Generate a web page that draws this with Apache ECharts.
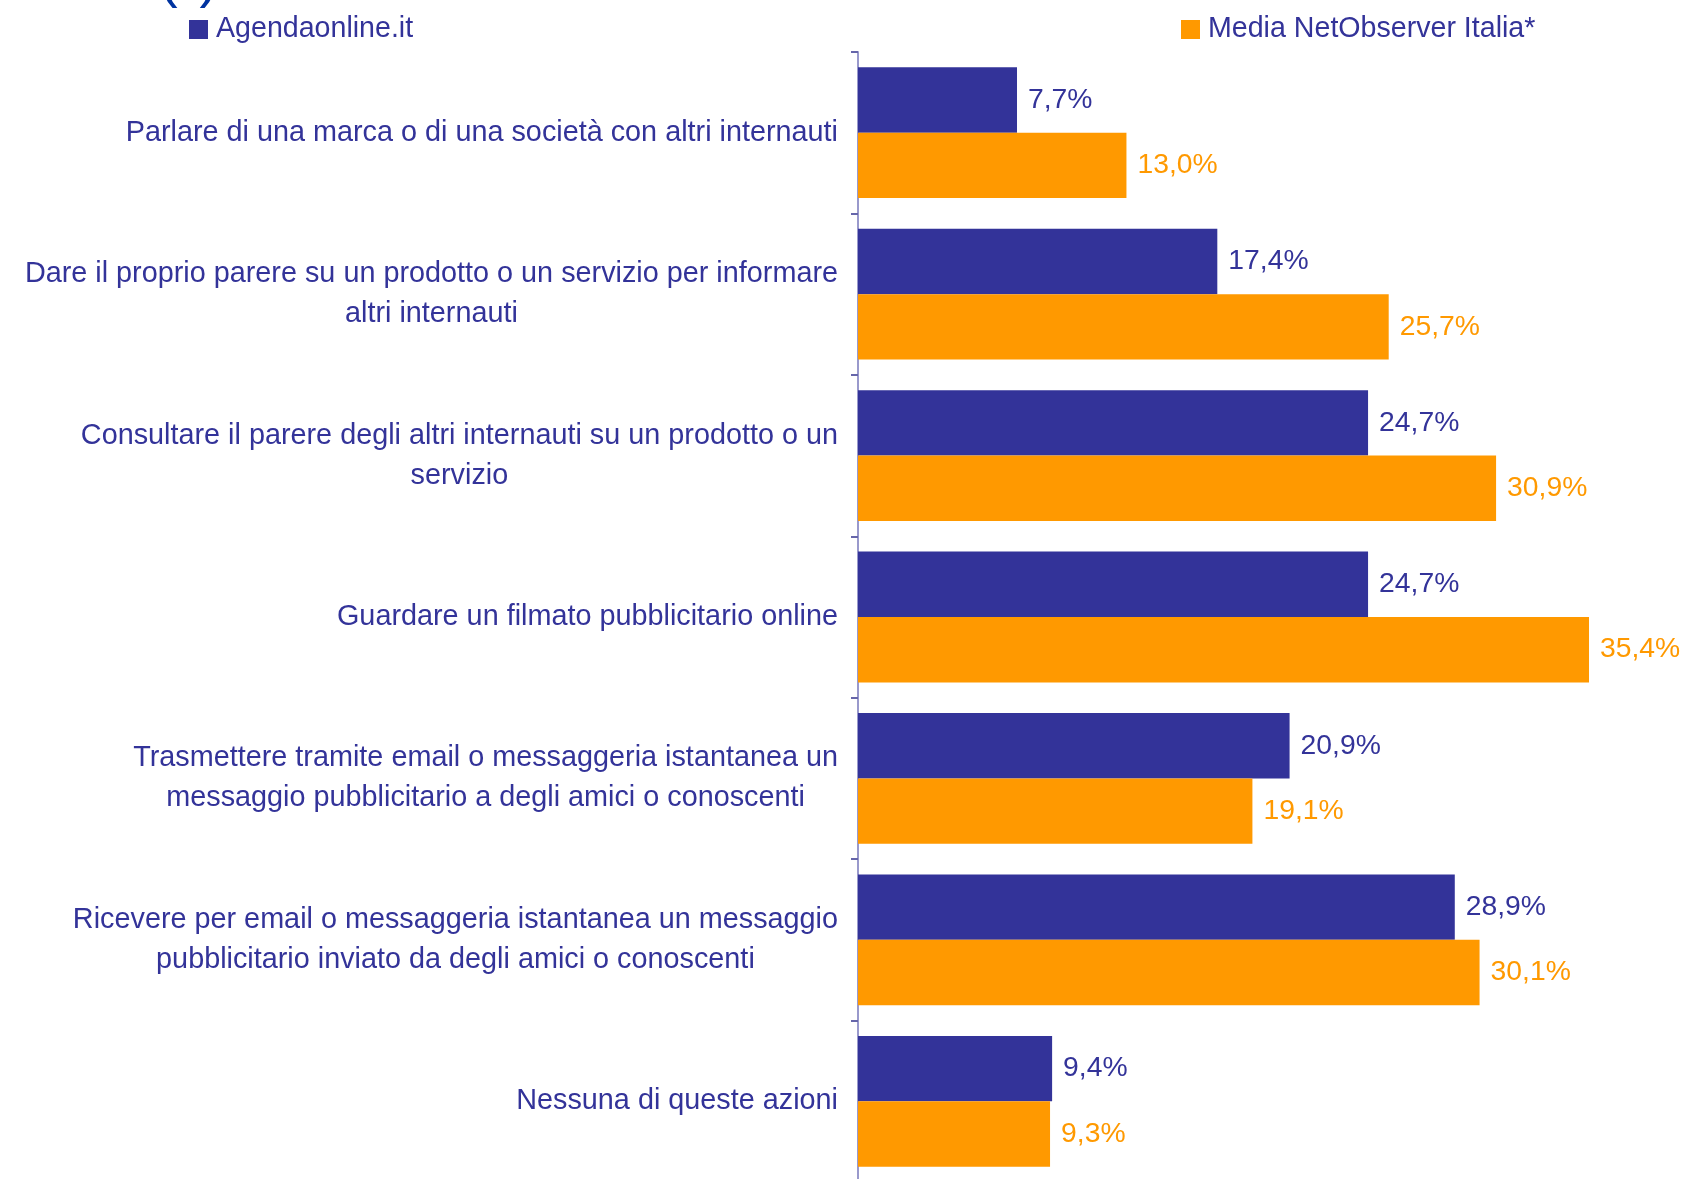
<!DOCTYPE html>
<html>
<head>
<meta charset="utf-8">
<script src="https://cdn.jsdelivr.net/npm/echarts@6/dist/echarts.min.js"></script>
<style>
html,body{margin:0;padding:0;background:#fff;}
#chart{width:1686px;height:1179px;}
</style>
</head>
<body>
<div id="chart"></div>
<script>
const categories = [
  "Parlare di una marca o di una società con altri internauti",
  "Dare il proprio parere su un prodotto o un servizio per informare\naltri internauti",
  "Consultare il parere degli altri internauti su un prodotto o un\nservizio",
  "Guardare un filmato pubblicitario online",
  "Trasmettere tramite email o messaggeria istantanea un\nmessaggio pubblicitario a degli amici o conoscenti",
  "Ricevere per email o messaggeria istantanea un messaggio\npubblicitario inviato da degli amici o conoscenti",
  "Nessuna di queste azioni"
];
const seriesNames = ["Agendaonline.it", "Media NetObserver Italia*"];
const agendaValues = [7.7, 17.4, 24.7, 24.7, 20.9, 28.9, 9.4];
const mediaValues = [13.0, 25.7, 30.9, 35.4, 19.1, 30.1, 9.3];
const titleText = "(*)";

const FONT = "'Liberation Sans', Arial, sans-serif";
const BLUE = '#333399';
const ORANGE = '#FF9900';

const chart = echarts.init(document.getElementById('chart'));
const fmt = v => v.value.toFixed(1).replace('.', ',') + '%';

const legendBase = {
  top: 15, padding: 0,
  itemWidth: 19, itemHeight: 19, itemGap: 0,
  icon: 'rect',
  textStyle: { fontSize: 28.6, lineHeight: 19, color: BLUE, fontFamily: FONT, padding: [0, 0, 0, 3] }
};

chart.setOption({
  animation: false,
  backgroundColor: '#ffffff',
  textStyle: { fontFamily: FONT },
  graphic: [{
    type: 'text', left: 159, top: -47,
    style: { text: titleText, fontSize: 56, fill: '#0033a0', fontFamily: FONT }
  }],
  legend: [
    Object.assign({}, legendBase, { data: [seriesNames[0]], left: 189 }),
    Object.assign({}, legendBase, { data: [seriesNames[1]], left: 1181 })
  ],
  grid: { left: 858, right: 2, top: 52, bottom: -3, containLabel: false, outerBoundsMode: 'none' },
  xAxis: { type: 'value', min: 0, max: 40, show: false },
  yAxis: {
    type: 'category', data: categories, inverse: true,
    axisLine: { show: true, lineStyle: { color: '#9999cc', width: 2 } },
    axisTick: { show: true, length: 7, lineStyle: { color: '#6666aa', width: 2 } },
    splitLine: { show: false },
    axisLabel: {
      margin: 20,
      formatter: v => v.split('\n').map(l => '{c|' + l + '}').join('\n'),
      rich: { c: { align: 'center', fontSize: 28.8, lineHeight: 40, color: BLUE, fontFamily: FONT } }
    }
  },
  series: [{
    name: seriesNames[0], type: 'bar', data: agendaValues,
    barGap: '0%', barCategoryGap: '19%',
    itemStyle: { color: BLUE },
    label: { show: true, position: 'right', distance: 11, formatter: fmt,
      fontSize: 28.3, color: BLUE, fontFamily: FONT }
  }, {
    name: seriesNames[1], type: 'bar', data: mediaValues,
    barGap: '0%', barCategoryGap: '19%',
    itemStyle: { color: ORANGE },
    label: { show: true, position: 'right', distance: 11, formatter: fmt,
      fontSize: 28.3, color: ORANGE, fontFamily: FONT }
  }]
});
</script>
</body>
</html>
